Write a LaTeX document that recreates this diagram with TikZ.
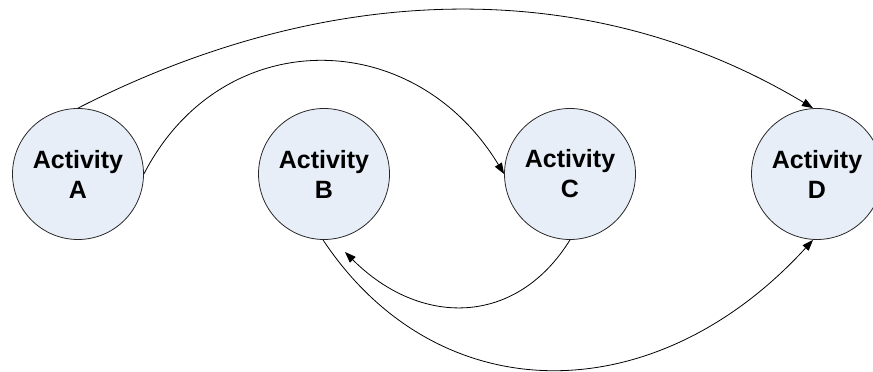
\documentclass[tikz,border=0pt]{standalone}
\usepackage{fontspec}
\setmainfont{Liberation Sans}
\usetikzlibrary{arrows.meta}
\definecolor{actfill}{RGB}{232,238,248}
\definecolor{actline}{RGB}{40,40,40}
\tikzset{
  activity/.style={circle,draw=actline,line width=0.8pt,fill=actfill,minimum size=131pt,inner sep=0pt,
    align=center,font=\fontsize{25pt}{30pt}\selectfont\bfseries},
  link/.style={draw=black,line width=0.8pt,-{Triangle[length=11pt,width=8pt]}}
}
\begin{document}
\begin{tikzpicture}[x=1pt,y=1pt]
\useasboundingbox[fill=white] (0,0) rectangle (873,372);
\node[activity] (A) at (78,198) {Activity\\A};
\node[activity] (B) at (324,198) {Activity\\B};
\node[activity] (C) at (570,198) {Activity\\C};
\node[activity] (D) at (817,198) {Activity\\D};
\coordinate (Bnear) at (345,120);
\draw[link] (A.north) .. controls (335,395) and (595,395) .. ([xshift=-4pt]D.north);
\draw[link] (A.east) .. controls (221,348) and (413,348) .. (C.west);
\draw[link] (C.south) .. controls (516,45) and (420,45) .. (Bnear);
\draw[link] ([xshift=-1pt]B.south) .. controls (438,-41) and (655,-41) .. ([xshift=-4pt]D.south);
\end{tikzpicture}
\end{document}
